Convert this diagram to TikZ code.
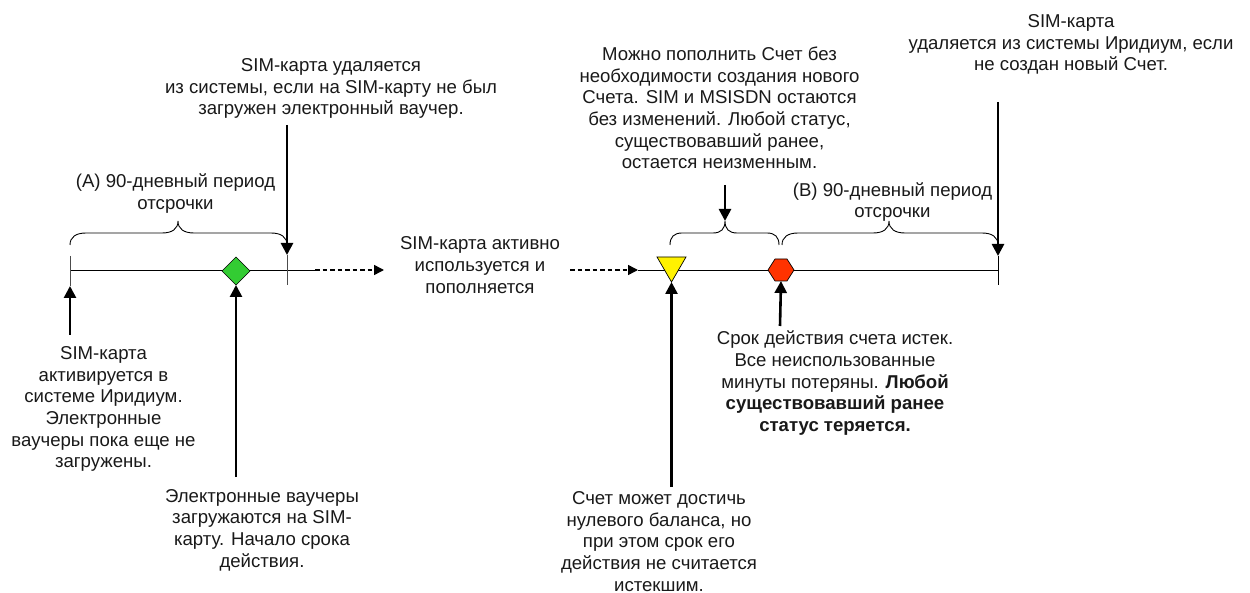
\documentclass[tikz,border=0pt]{standalone}
\usepackage{fontspec}
\setmainfont{Liberation Sans}
\usetikzlibrary{arrows.meta}
\definecolor{dgreen}{RGB}{51,204,51}
\definecolor{hexred}{RGB}{255,51,0}
\begin{document}
\begin{tikzpicture}[x=1pt,y=-1pt,
  lbl/.style={align=center,inner sep=0pt,font=\fontsize{18.6}{21.7}\selectfont,text=black!90},
  ptr/.style={line width=2.6pt,-{Triangle[length=12pt,width=12pt]}},
  axis/.style={line width=0.9pt},
  tickline/.style={line width=0.9pt,draw=black!70},
  dashar/.style={line width=1.5pt,dash pattern=on 4.5pt off 3pt,-{Triangle[length=10pt,width=10pt]}},
  brace/.style={line width=0.9pt},
  marker/.style={draw=black,line width=.7pt}]
\useasboundingbox (0,0) rectangle (1250,593);
% timeline coordinates
\coordinate (a0) at (70,270);
\coordinate (a0t) at (70,256);
\coordinate (a0b) at (70,286);
\coordinate (a1) at (287,270);
\coordinate (a1t) at (287,255);
\coordinate (a1b) at (287,285);
\coordinate (a2) at (315,270);
\coordinate (a3) at (384,270);
\coordinate (b0) at (570,270);
\coordinate (b1) at (638,270);
\coordinate (b2) at (998,270);
\coordinate (b2t) at (998,256);
\coordinate (b2b) at (998,285);
\draw[axis] (a0) -- (a2);
\draw[axis] (b1) -- (b2);
\draw[tickline] (a0t) -- (a0b);
\draw[tickline] (a1t) -- (a1b);
\draw[axis] (b2t) -- (b2b);
\draw[dashar] (a2) -- (a3);
\draw[dashar] (b0) -- (b1);
% markers
\path[marker,fill=dgreen]
  (236,257) -- (250,271) -- (236,285) coordinate (db) -- (222,271) -- cycle;
\path[marker,fill=yellow]
  (657,257) -- (686,257) -- (671.5,282) coordinate (tb) -- cycle;
\path[marker,fill=hexred]
  (768,270) -- (775,259) -- (787,259) -- (794,270) -- (787,281) -- (775,281) -- cycle;
\coordinate (hb) at (781,281);
% braces
\draw[brace] (70,245) .. controls (70,237) and (76,233) .. (86,233) -- (162,233)
  .. controls (172,233) and (178,229) .. (178,221)
  .. controls (178,229) and (184,233) .. (194,233) -- (271,233)
  .. controls (281,233) and (287,237) .. (287,245);
\draw[brace] (670,245) .. controls (670,237) and (674,233) .. (682,233) -- (713,233)
  .. controls (721,233) and (725,229) .. (725,221)
  .. controls (725,229) and (729,233) .. (737,233) -- (767,233)
  .. controls (775,233) and (779,237) .. (779,245);
\draw[brace] (782,245) .. controls (782,237) and (788,233) .. (798,233) -- (873,233)
  .. controls (883,233) and (889,229) .. (889,221)
  .. controls (889,229) and (895,233) .. (905,233) -- (982,233)
  .. controls (992,233) and (998,237) .. (998,245);
% labels
\node[lbl] (t1) at (331,88.5) {SIM-карта удаляется\\из системы, если на SIM-карту не был\\загружен электронный ваучер.};
\node[lbl] (t2) at (175.5,193.5) {(A) 90-дневный период\\отсрочки};
\node[lbl] (t3) at (480,265) {SIM-карта активно\\используется и\\пополняется};
\node[lbl] (t4) at (719.5,108) {Можно пополнить Счет без\\необходимости создания нового\\Счета. SIM и MSISDN остаются\\без изменений. Любой статус,\\существовавший ранее,\\остается неизменным.};
\node[lbl] (t5) at (1071,44.5) {SIM-карта\\удаляется из системы Иридиум, если\\не создан новый Счет.};
\node[lbl] (t6) at (892.5,202) {(B) 90-дневный период\\отсрочки};
\node[lbl] (t7) at (103.5,409) {SIM-карта\\активируется в\\системе Иридиум.\\Электронные\\ваучеры пока еще не\\загружены.};
\node[lbl] (t8) at (262,530) {Электронные ваучеры\\загружаются на SIM-\\карту. Начало срока\\действия.};
\node[lbl] (t9) at (659,541.5) {Счет может достичь\\нулевого баланса, но\\при этом срок его\\действия не считается\\истекшим.};
\node[lbl] (t10) at (835,383.3) {Срок действия счета истек.\\Все неиспользованные\\минуты потеряны. \textbf{Любой}\\\textbf{существовавший ранее}\\\textbf{статус теряется.}};
% pointers
\coordinate (p1) at (287,125);
\coordinate (p4) at (725,185);
\coordinate (p5) at (998,102);
\coordinate (p7) at (70,335);
\coordinate (p8) at (236,477);
\coordinate (p9) at (671.5,487);
\coordinate (p10) at (780,326);
\draw[ptr] (p1) -- (a1t);
\draw[ptr] (p4) -- (725,221);
\draw[ptr] (p5) -- (b2t);
\draw[ptr] (p7) -- (a0b);
\draw[ptr] (p8) -- (db);
\draw[ptr] (p9) -- (tb);
\draw[ptr] (p10) -- (hb);
\end{tikzpicture}
\end{document}
